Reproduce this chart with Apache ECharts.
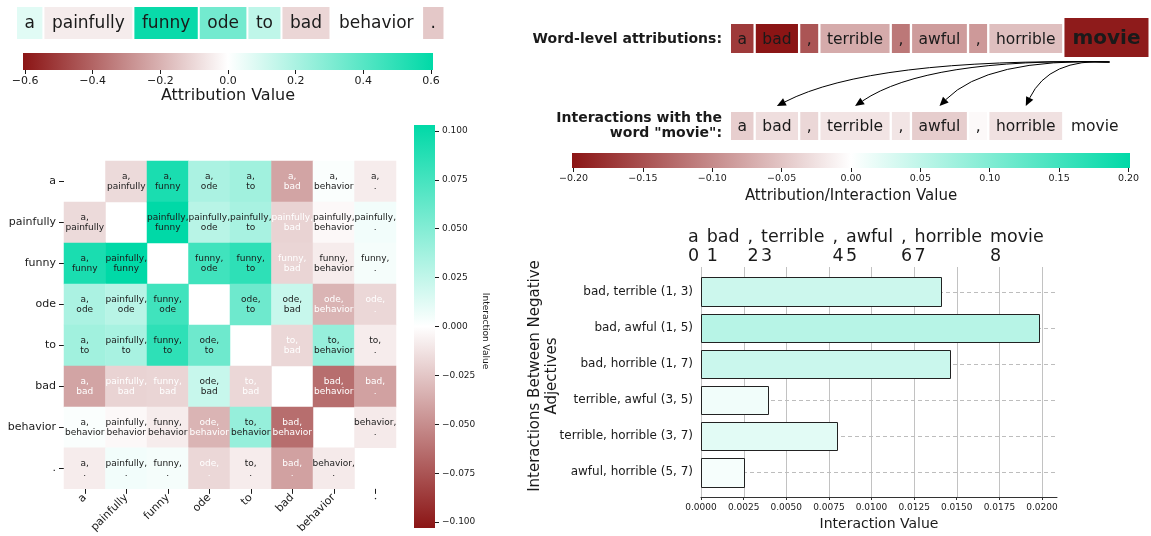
<!DOCTYPE html>
<html><head><meta charset="utf-8">
<script src="https://cdn.jsdelivr.net/npm/echarts@6/dist/echarts.min.js"></script>
<style>html,body{margin:0;padding:0;background:#fff}#c{width:1151px;height:536px}</style>
</head><body><div id="c"></div>
<script>
// ================= DATA =================
const sentenceTokens = ['a', 'painfully', 'funny', 'ode', 'to', 'bad', 'behavior', '.'];
const sentenceAttr = [0.07, -0.05, 0.58, 0.33, 0.15, -0.105, 0.003, -0.14];
const attrTicks = [-0.6, -0.4, -0.2, 0, 0.2, 0.4, 0.6];

// pairwise interaction values (row token x column token), diagonal empty
const interactionMatrix = [
  [null, -0.016, 0.090, 0.033, 0.037, -0.039, 0.002, -0.008],
  [-0.016, null, 0.100, 0.028, 0.034, -0.019, -0.003, 0.005],
  [0.090, 0.100, null, 0.075, 0.082, -0.018, -0.008, 0.004],
  [0.033, 0.028, 0.075, null, 0.057, 0.022, -0.032, -0.017],
  [0.037, 0.034, 0.082, 0.057, null, -0.017, 0.041, -0.008],
  [-0.039, -0.019, -0.018, 0.022, -0.017, null, -0.062, -0.040],
  [0.002, -0.003, -0.008, -0.032, 0.041, -0.062, null, -0.009],
  [-0.008, 0.005, 0.004, -0.017, -0.008, -0.040, -0.009, null]
];
const heatTicks = [-0.1, -0.075, -0.05, -0.025, 0, 0.025, 0.05, 0.075, 0.1];

const reviewTokens = ['a', 'bad', ',', 'terrible', ',', 'awful', ',', 'horrible', 'movie'];
const queryIndex = 8;
const wordAttr = [-0.168, -0.2, -0.145, -0.072, -0.115, -0.085, -0.087, -0.055, -0.195];
const movieInteraction = [-0.042, -0.028, -0.034, -0.023, -0.022, -0.043, -0.005, -0.026, 0];
const arrowTargets = [1, 3, 5, 7];
const interTicks = [-0.2, -0.15, -0.1, -0.05, 0, 0.05, 0.1, 0.15, 0.2];

const pairLabels = ['bad, terrible (1, 3)', 'bad, awful (1, 5)', 'bad, horrible (1, 7)',
                    'terrible, awful (3, 5)', 'terrible, horrible (3, 7)', 'awful, horrible (5, 7)'];
const pairValues = [0.01406, 0.01984, 0.01462, 0.00391, 0.00796, 0.00254];
const barTicks = [0, 0.0025, 0.005, 0.0075, 0.01, 0.0125, 0.015, 0.0175, 0.02];
const tokenIndexLabels = ['0', '1', '2', '3', '4', '5', '6', '7', '8'];

// ================= STYLE / LAYOUT =================
const DARK = '#8b1515', WHITE = '#ffffff', TEAL = '#00d9a7';
const INK = '#1a1a1a';
const FF = '"DejaVu Sans"';
const CMAP = [DARK, WHITE, TEAL];

const ctx = document.createElement('canvas').getContext('2d');
function textW(t, font) { ctx.font = font; return ctx.measureText(t).width; }
function layoutRow(tokens, x0, font, pad, gap, special) {
  const res = []; let x = x0;
  tokens.forEach((t, i) => {
    const s = special && special.index === i ? special : null;
    const f = s ? s.font : font, p = s ? s.pad : pad;
    const w = textW(t, f) + 2 * p;
    res.push({ x: x, w: w, font: f, special: !!s });
    x += w + gap;
  });
  return res;
}
const sentLayout = layoutRow(sentenceTokens, 17, '17px ' + FF, 7.5, 2);
const wordLayout = layoutRow(reviewTokens, 731, '15.5px ' + FF, 6.5, 2.3,
  { index: queryIndex, font: 'bold 20px ' + FF, pad: 8 });
const interLayout = layoutRow(reviewTokens, 731, '15.5px ' + FF, 6.5, 2.3);
const topFont = '17.5px ' + FF;
const topLayout = layoutRow(reviewTokens, 688, topFont, 0, textW(' ', topFont) + 2.4);

const ROW1 = { top: 7, h: 32 };
const WROW = { top: 24, h: 29, specTop: 18, specH: 39 };
const IROW = { top: 112, h: 28 };

function tokenRenderer(tokens, layout, box) {
  return function (params, api) {
    const i = api.value(0); const L = layout[i];
    let y = box.top, h = box.h;
    if (L.special) { y = box.specTop; h = box.specH; }
    return { type: 'group', children: [
      { type: 'rect', shape: { x: L.x, y: y, width: L.w, height: h }, style: { fill: api.visual('color') } },
      { type: 'text', style: { text: tokens[i], x: L.x + L.w / 2, y: y + h / 2 + 1, align: 'center', verticalAlign: 'middle', font: L.font, fill: INK } }
    ] };
  };
}
function colorbarRenderer(horizontal) {
  return function (params, api) {
    const cs = params.coordSys;
    return { type: 'rect', shape: { x: cs.x, y: cs.y, width: cs.width, height: cs.height },
      style: { fill: new echarts.graphic.LinearGradient(0, horizontal ? 0 : 1, horizontal ? 1 : 0, 0,
        [{ offset: 0, color: DARK }, { offset: 0.5, color: WHITE }, { offset: 1, color: TEAL }]) } };
  };
}
const minus = (s) => s.replace('-', '\u2212');
const tickFmt = (d) => (v) => minus(Number(v).toFixed(d));

const chart = echarts.init(document.getElementById('c'), null, { renderer: 'canvas' });
const heatData = [];
interactionMatrix.forEach((row, y) => row.forEach((v, x) => {
  if (v === null) return;
  heatData.push({ value: [x, y, v], label: { color: v < -0.0165 ? '#ffffff' : INK } });
}));

const axisText = { color: INK, fontFamily: FF };
const hiddenLine = { show: true, onZero: false, lineStyle: { color: 'rgba(0,0,0,0)' } };
const option = {
  animation: false,
  backgroundColor: '#ffffff',
  textStyle: { fontFamily: FF, color: INK },
  grid: [
    { left: 23, top: 53, width: 410, height: 17 },          // attribution colorbar
    { left: 64, top: 161, width: 332, height: 332 },        // heatmap
    { left: 414, top: 125, width: 21, height: 403 },        // heatmap colorbar
    { left: 572, top: 153, width: 558, height: 15 },        // interaction colorbar
    { left: 701, top: 267, width: 356, height: 230 }        // bar chart
  ],
  xAxis: [
    { gridIndex: 0, type: 'value', min: -0.606, max: 0.606, splitLine: { show: false }, axisLine: hiddenLine,
      axisTick: { show: true, customValues: attrTicks, length: 4, lineStyle: { color: INK } },
      axisLabel: { customValues: attrTicks, formatter: tickFmt(1), fontSize: 11, margin: 6, ...axisText },
      name: 'Attribution Value', nameLocation: 'middle', nameGap: 18, nameTextStyle: { fontSize: 16, color: INK, fontFamily: FF } },
    { gridIndex: 1, type: 'category', data: sentenceTokens, axisLine: hiddenLine,
      axisTick: { show: true, alignWithLabel: true, length: 5, lineStyle: { color: INK } },
      axisLabel: { rotate: 45, fontSize: 11, margin: 7, ...axisText } },
    { gridIndex: 2, type: 'value', min: 0, max: 1, show: false },
    { gridIndex: 3, type: 'value', min: -0.2011, max: 0.2011, splitLine: { show: false }, axisLine: hiddenLine,
      axisTick: { show: true, customValues: interTicks, length: 4, lineStyle: { color: INK } },
      axisLabel: { customValues: interTicks, formatter: tickFmt(2), fontSize: 9.5, margin: 6, ...axisText },
      name: 'Attribution/Interaction Value', nameLocation: 'middle', nameGap: 21, nameTextStyle: { fontSize: 15, color: INK, fontFamily: FF } },
    { gridIndex: 4, type: 'value', min: 0, max: 0.02088, splitLine: { show: false },
      axisLine: { show: true, onZero: false, lineStyle: { color: '#333', width: 1 } },
      axisTick: { show: true, customValues: barTicks, length: 3, lineStyle: { color: '#333' } },
      axisLabel: { customValues: barTicks, formatter: tickFmt(4), fontSize: 9, margin: 6, ...axisText },
      name: 'Interaction Value', nameLocation: 'middle', nameGap: 20, nameTextStyle: { fontSize: 14, color: INK, fontFamily: FF } }
  ],
  yAxis: [
    { gridIndex: 0, type: 'value', min: 0, max: 1, show: false },
    { gridIndex: 1, type: 'category', data: sentenceTokens, inverse: true, axisLine: hiddenLine,
      axisTick: { show: true, alignWithLabel: true, length: 5, lineStyle: { color: INK } },
      axisLabel: { fontSize: 11, margin: 8, ...axisText } },
    { gridIndex: 2, type: 'value', position: 'right', min: -0.103, max: 0.103, splitLine: { show: false }, axisLine: hiddenLine,
      axisTick: { show: true, customValues: heatTicks, length: 4, lineStyle: { color: INK } },
      axisLabel: { customValues: heatTicks, formatter: tickFmt(3), fontSize: 9, margin: 7, ...axisText } },
    { gridIndex: 3, type: 'value', min: 0, max: 1, show: false },
    { gridIndex: 4, type: 'value', min: -0.69, max: 5.69, inverse: true, splitLine: { show: false },
      axisLine: { show: false, onZero: false }, axisTick: { show: false },
      axisLabel: { customValues: [0, 1, 2, 3, 4, 5], formatter: (v) => pairLabels[Math.round(v)], fontSize: 12, margin: 8, ...axisText } }
  ],
  visualMap: [
    { show: false, type: 'continuous', seriesIndex: 0, dimension: 1, min: -0.6, max: 0.6, inRange: { color: CMAP } },
    { show: false, type: 'continuous', seriesIndex: 2, dimension: 2, min: -0.1, max: 0.1, inRange: { color: CMAP } },
    { show: false, type: 'continuous', seriesIndex: [4, 5], dimension: 1, min: -0.2, max: 0.2, inRange: { color: CMAP } },
    { show: false, type: 'continuous', seriesIndex: 10, dimension: 0, min: -0.07, max: 0.07, inRange: { color: CMAP } }
  ],
  series: [
    // 0 sentence tokens
    { type: 'custom', coordinateSystem: 'none', data: sentenceAttr.map((v, i) => [i, v]),
      renderItem: tokenRenderer(sentenceTokens, sentLayout, ROW1) },
    // 1 colorbar 1
    { type: 'custom', xAxisIndex: 0, yAxisIndex: 0, data: [[0, 0]], renderItem: colorbarRenderer(true), silent: true },
    // 2 heatmap
    { type: 'heatmap', xAxisIndex: 1, yAxisIndex: 1, data: heatData,
      label: { show: true, fontSize: 9, lineHeight: 10, fontFamily: FF,
        formatter: (p) => { const a = Math.min(p.value[0], p.value[1]), b = Math.max(p.value[0], p.value[1]);
          return sentenceTokens[a] + ',\n' + sentenceTokens[b]; } },
      emphasis: { disabled: true } },
    // 3 heatmap colorbar
    { type: 'custom', xAxisIndex: 2, yAxisIndex: 2, data: [[0, 0]], renderItem: colorbarRenderer(false), silent: true },
    // 4 word-level attributions
    { type: 'custom', coordinateSystem: 'none', data: wordAttr.map((v, i) => [i, v]),
      renderItem: tokenRenderer(reviewTokens, wordLayout, WROW) },
    // 5 interactions with movie
    { type: 'custom', coordinateSystem: 'none', data: movieInteraction.map((v, i) => [i, v]),
      renderItem: tokenRenderer(reviewTokens, interLayout, IROW) },
    // 6 arrows
    { type: 'custom', coordinateSystem: 'none', data: arrowTargets.map((t) => [t]),
      renderItem: (params, api) => {
        const t = api.value(0);
        const S = wordLayout[queryIndex];
        const sx = S.x + S.w / 2 + 3, sy = WROW.specTop + WROW.specH + 5;
        const D = interLayout[t];
        const tx = D.x + D.w / 2, ty = IROW.top - 6;
        const cx = sx + 0.72 * (tx - sx), cy = sy - 4;
        const dx = tx - cx, dy = ty - cy, len = Math.hypot(dx, dy), ux = dx / len, uy = dy / len;
        const hl = 9, hw = 4;
        const bx = tx - ux * hl, by = ty - uy * hl;
        return { type: 'group', children: [
          { type: 'bezierCurve', shape: { x1: sx, y1: sy, x2: bx, y2: by, cpx1: cx, cpy1: cy }, style: { stroke: '#000', fill: 'none', lineWidth: 1 } },
          { type: 'polygon', shape: { points: [[tx, ty], [bx - uy * hw, by + ux * hw], [bx + uy * hw, by - ux * hw]] }, style: { fill: '#000' } }
        ] };
      } },
    // 7 colorbar 2
    { type: 'custom', xAxisIndex: 3, yAxisIndex: 3, data: [[0, 0]], renderItem: colorbarRenderer(true), silent: true },
    // 8 vertical grid lines
    { type: 'custom', xAxisIndex: 4, yAxisIndex: 4, z: 1, data: barTicks.map((v) => [v, 0]),
      renderItem: (params, api) => {
        const x = Math.round(api.coord([api.value(0), 0])[0]) + 0.5; const cs = params.coordSys;
        return { type: 'line', shape: { x1: x, y1: cs.y, x2: x, y2: cs.y + cs.height }, style: { stroke: '#c2c2c2', lineWidth: 1 } };
      } },
    // 9 dashed category lines
    { type: 'custom', xAxisIndex: 4, yAxisIndex: 4, z: 1, data: pairValues.map((v, i) => [0, i]),
      renderItem: (params, api) => {
        const y = Math.round(api.coord([0, api.value(1)])[1]) + 0.5; const cs = params.coordSys;
        return { type: 'line', shape: { x1: cs.x, y1: y, x2: cs.x + cs.width, y2: y }, style: { stroke: '#bdbdbd', lineWidth: 1, lineDash: [4, 3] } };
      } },
    // 10 bars
    { type: 'custom', xAxisIndex: 4, yAxisIndex: 4, z: 3, data: pairValues.map((v, i) => [v, i]),
      encode: { x: 0, y: 1 },
      renderItem: (params, api) => {
        const v = api.value(0), i = api.value(1);
        const p0 = api.coord([0, i - 0.4]), p1 = api.coord([v, i + 0.4]);
        const x0 = Math.round(p0[0]) + 0.5, x1 = Math.round(p1[0]) + 0.5;
        const y0 = Math.round(Math.min(p0[1], p1[1])) + 0.5, y1 = Math.round(Math.max(p0[1], p1[1])) + 0.5;
        return { type: 'rect', shape: { x: x0, y: y0, width: x1 - x0, height: y1 - y0 },
          style: { fill: api.visual('color'), stroke: '#222', lineWidth: 1 } };
      } },
    // 11 token / index labels above bar chart
    { type: 'custom', coordinateSystem: 'none', data: reviewTokens.map((t, i) => [i]),
      renderItem: (params, api) => {
        const i = api.value(0); const L = topLayout[i];
        return { type: 'group', children: [
          { type: 'text', style: { text: reviewTokens[i], x: L.x, y: 237, align: 'left', verticalAlign: 'middle', font: topFont, fill: INK } },
          { type: 'text', style: { text: tokenIndexLabels[i], x: L.x, y: 256, align: 'left', verticalAlign: 'middle', font: topFont, fill: INK } }
        ] };
      } }
  ],
  graphic: [
    { type: 'text', x: 722, y: 39, style: { text: 'Word-level attributions:', align: 'right', verticalAlign: 'middle', font: 'bold 14px ' + FF, fill: INK } },
    { type: 'text', x: 722, y: 126, style: { text: 'Interactions with the\nword "movie":', align: 'right', verticalAlign: 'middle', font: 'bold 14px ' + FF, lineHeight: 15.5, fill: INK } },
    { type: 'text', x: 485, y: 331, rotation: -Math.PI / 2, style: { text: 'Interaction Value', align: 'center', verticalAlign: 'middle', font: '9px ' + FF, fill: INK } },
    { type: 'text', x: 544, y: 376, rotation: Math.PI / 2, style: { text: 'Interactions Between Negative\nAdjectives', align: 'center', verticalAlign: 'middle', font: '15px ' + FF, lineHeight: 17, fill: INK } }
  ]
};
chart.setOption(option);
</script></body></html>
